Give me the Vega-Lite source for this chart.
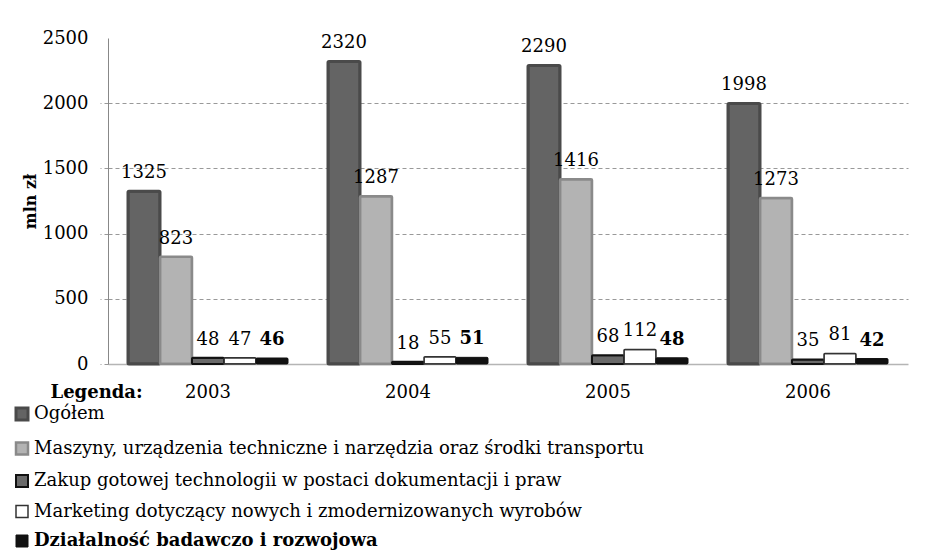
{
  "$schema": "https://vega.github.io/schema/vega-lite/v6.json",
  "width": 800,
  "height": 326,
  "autosize": {"type": "none"},
  "padding": {"left": 108, "top": 38, "right": 25, "bottom": 191},
  "background": "white",
  "config": {
    "font": "DejaVu Serif",
    "view": {"stroke": null},
    "axis": {"labelFont": "DejaVu Serif", "titleFont": "DejaVu Serif"},
    "legend": {"labelFont": "DejaVu Serif", "titleFont": "DejaVu Serif"},
    "text": {"font": "DejaVu Serif"}
  },
  "data": {
    "values": [
      {"year": "2003", "series": "Ogółem", "value": 1325},
      {"year": "2003", "series": "Maszyny, urządzenia techniczne i narzędzia oraz środki transportu", "value": 823},
      {"year": "2003", "series": "Zakup gotowej technologii w postaci dokumentacji i praw", "value": 48},
      {"year": "2003", "series": "Marketing dotyczący nowych i zmodernizowanych wyrobów", "value": 47},
      {"year": "2003", "series": "Działalność badawczo i rozwojowa", "value": 46},
      {"year": "2004", "series": "Ogółem", "value": 2320},
      {"year": "2004", "series": "Maszyny, urządzenia techniczne i narzędzia oraz środki transportu", "value": 1287},
      {"year": "2004", "series": "Zakup gotowej technologii w postaci dokumentacji i praw", "value": 18},
      {"year": "2004", "series": "Marketing dotyczący nowych i zmodernizowanych wyrobów", "value": 55},
      {"year": "2004", "series": "Działalność badawczo i rozwojowa", "value": 51},
      {"year": "2005", "series": "Ogółem", "value": 2290},
      {"year": "2005", "series": "Maszyny, urządzenia techniczne i narzędzia oraz środki transportu", "value": 1416},
      {"year": "2005", "series": "Zakup gotowej technologii w postaci dokumentacji i praw", "value": 68},
      {"year": "2005", "series": "Marketing dotyczący nowych i zmodernizowanych wyrobów", "value": 112},
      {"year": "2005", "series": "Działalność badawczo i rozwojowa", "value": 48},
      {"year": "2006", "series": "Ogółem", "value": 1998},
      {"year": "2006", "series": "Maszyny, urządzenia techniczne i narzędzia oraz środki transportu", "value": 1273},
      {"year": "2006", "series": "Zakup gotowej technologii w postaci dokumentacji i praw", "value": 35},
      {"year": "2006", "series": "Marketing dotyczący nowych i zmodernizowanych wyrobów", "value": 81},
      {"year": "2006", "series": "Działalność badawczo i rozwojowa", "value": 42}
    ]
  },
  "encoding": {
    "x": {
      "field": "year",
      "type": "nominal",
      "scale": {"paddingInner": 0.2, "paddingOuter": 0.1},
      "axis": {
        "labelAngle": 0,
        "labelFont": "DejaVu Serif",
        "labelFontSize": 18,
        "labelColor": "#000",
        "labelPadding": 19,
        "ticks": false,
        "domainColor": "#b5b5b5",
        "domainWidth": 1.5,
        "title": "Legenda:",
        "titleFont": "DejaVu Serif",
        "titleFontWeight": "bold",
        "titleFontSize": 18,
        "titleColor": "#000",
        "titleX": -58,
        "titleY": 19,
        "titleAlign": "left",
        "titleBaseline": "top"
      }
    },
    "xOffset": {
      "field": "series",
      "type": "nominal",
      "scale": {
        "domain": [
          "Ogółem",
          "Maszyny, urządzenia techniczne i narzędzia oraz środki transportu",
          "Zakup gotowej technologii w postaci dokumentacji i praw",
          "Marketing dotyczący nowych i zmodernizowanych wyrobów",
          "Działalność badawczo i rozwojowa"
        ],
        "paddingInner": 0,
        "paddingOuter": 0
      }
    },
    "y": {
      "field": "value",
      "type": "quantitative",
      "scale": {"domain": [0, 2500]},
      "axis": {
        "title": "mln zł",
        "titleFont": "DejaVu Serif",
        "titleFontWeight": "bold",
        "titleFontSize": 16,
        "titleColor": "#000",
        "titlePadding": 4,
        "values": [0, 500, 1000, 1500, 2000, 2500],
        "format": "d",
        "labelFont": "DejaVu Serif",
        "labelFontSize": 18,
        "labelColor": "#000",
        "labelPadding": 12,
        "tickSize": 8,
        "tickColor": "#999",
        "tickDash": [4, 3],
        "tickOpacity": {"condition": {"test": "datum.value == 2500", "value": 0}, "value": 1},
        "gridColor": "#999",
        "gridDash": [4, 3],
        "gridOpacity": {"condition": {"test": "datum.value == 2500 || datum.value == 0", "value": 0}, "value": 1},
        "domainColor": "#888"
      }
    }
  },
  "layer": [
    {
      "mark": {"type": "bar", "cornerRadius": 1},
      "encoding": {
        "fill": {
          "field": "series",
          "type": "nominal",
          "scale": {
            "domain": [
              "Ogółem",
              "Maszyny, urządzenia techniczne i narzędzia oraz środki transportu",
              "Zakup gotowej technologii w postaci dokumentacji i praw",
              "Marketing dotyczący nowych i zmodernizowanych wyrobów",
              "Działalność badawczo i rozwojowa"
            ],
            "range": ["#646464", "#b3b3b3", "#6a6a6a", "#ffffff", "#111111"]
          },
          "legend": {
            "orient": "none",
            "legendX": -95,
            "legendY": 367,
            "title": null,
            "padding": 0,
            "direction": "vertical",
            "symbolType": "square",
            "symbolSize": 144,
            "symbolStrokeWidth": 1.5,
            "labelFont": "DejaVu Serif",
            "labelFontSize": 18,
            "labelColor": "#000",
            "labelLimit": 900,
            "labelOffset": 3,
            "rowPadding": 11.5,
            "encode": {
              "symbols": {"update": {"strokeWidth": {"value": 1.5}}},
              "labels": {
                "update": {
                  "fontWeight": {"signal": "datum.value == 'Działalność badawczo i rozwojowa' ? 'bold' : 'normal'"}
                }
              }
            }
          }
        },
        "stroke": {
          "field": "series",
          "type": "nominal",
          "scale": {
            "domain": [
              "Ogółem",
              "Maszyny, urządzenia techniczne i narzędzia oraz środki transportu",
              "Zakup gotowej technologii w postaci dokumentacji i praw",
              "Marketing dotyczący nowych i zmodernizowanych wyrobów",
              "Działalność badawczo i rozwojowa"
            ],
            "range": ["#4a4a4a", "#8a8a8a", "#111111", "#333333", "#111111"]
          }
        },
        "strokeWidth": {
          "field": "series",
          "type": "nominal",
          "scale": {
            "domain": [
              "Ogółem",
              "Maszyny, urządzenia techniczne i narzędzia oraz środki transportu",
              "Zakup gotowej technologii w postaci dokumentacji i praw",
              "Marketing dotyczący nowych i zmodernizowanych wyrobów",
              "Działalność badawczo i rozwojowa"
            ],
            "range": [3, 1, 2.5, 1, 1]
          },
          "legend": null
        }
      }
    },
    {
      "transform": [{"filter": "datum.series != 'Działalność badawczo i rozwojowa'"}],
      "mark": {"type": "text", "baseline": "bottom", "dy": -9, "font": "DejaVu Serif", "fontSize": 18, "color": "#000"},
      "encoding": {"text": {"field": "value", "type": "quantitative", "format": "d"}}
    },
    {
      "transform": [{"filter": "datum.series == 'Działalność badawczo i rozwojowa'"}],
      "mark": {"type": "text", "baseline": "bottom", "dy": -9, "font": "DejaVu Serif", "fontSize": 18, "fontWeight": "bold", "color": "#000"},
      "encoding": {"text": {"field": "value", "type": "quantitative", "format": "d"}}
    }
  ]
}
